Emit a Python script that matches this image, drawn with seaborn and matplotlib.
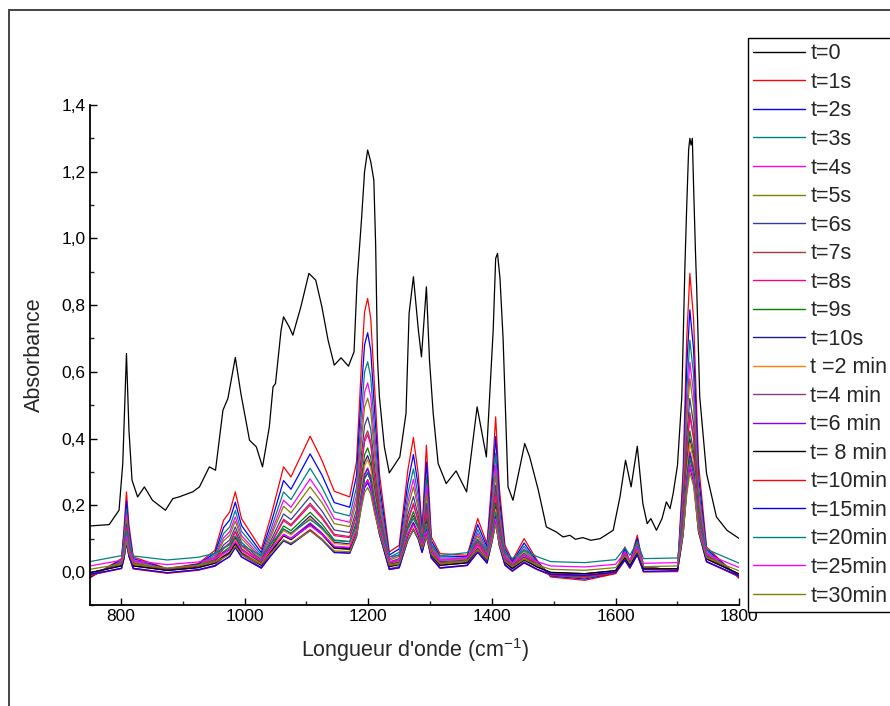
import matplotlib
matplotlib.use("Agg")
import matplotlib.pyplot as plt
import matplotlib.ticker as mticker
from matplotlib.patches import Rectangle
import pandas as pd
import seaborn as sns

labels = ["t=0", "t=1s", "t=2s", "t=3s", "t=4s", "t=5s", "t=6s", "t=7s", "t=8s",
          "t=9s", "t=10s", "t =2 min", "t=4 min", "t=6 min", "t= 8 min",
          "t=10min", "t=15min", "t=20min", "t=25min", "t=30min"]
colors = ["#000000", "#FF0000", "#0000FF", "#008080", "#FF00FF", "#808000",
          "#3A3A9E", "#A03C3C", "#FF0080", "#008000", "#1C1C8C", "#FF8000",
          "#8B3A8B", "#8000FF", "#000000", "#FF0000", "#0000FF", "#008080",
          "#FF00FF", "#808000"]

# spectre initial (t=0)
wn_t0 = [750, 781, 797, 803, 809, 813, 818, 827, 838, 851,
         872, 884, 894, 916, 927, 943, 953, 965, 973, 985,
         994, 1008, 1019, 1029, 1040, 1046, 1050, 1059, 1063, 1072,
         1078, 1091, 1104, 1115, 1125, 1135, 1145, 1156, 1168, 1177,
         1182, 1189, 1194, 1199, 1204, 1209, 1212, 1215, 1218, 1226,
         1234, 1251, 1261, 1266, 1273, 1281, 1286, 1294, 1299, 1305,
         1313, 1326, 1342, 1359, 1376, 1391, 1402, 1406, 1409, 1413,
         1418, 1426, 1434, 1453, 1461, 1475, 1488, 1504, 1515, 1526,
         1535, 1547, 1560, 1575, 1596, 1607, 1616, 1625, 1635, 1644,
         1651, 1657, 1666, 1675, 1682, 1688, 1693, 1700, 1707, 1712,
         1715, 1718, 1720, 1722, 1724, 1726, 1729, 1731, 1736, 1747,
         1763, 1780, 1800]
abs_t0 = [0.138, 0.142, 0.185, 0.325, 0.655, 0.425, 0.275, 0.225, 0.255, 0.215,
          0.185, 0.220, 0.225, 0.240, 0.255, 0.315, 0.305, 0.485, 0.520, 0.643,
          0.535, 0.395, 0.375, 0.315, 0.435, 0.555, 0.565, 0.725, 0.765, 0.735,
          0.710, 0.795, 0.895, 0.875, 0.795, 0.695, 0.620, 0.642, 0.617, 0.660,
          0.875, 1.055, 1.200, 1.265, 1.230, 1.175, 0.975, 0.635, 0.525, 0.375,
          0.297, 0.345, 0.475, 0.775, 0.885, 0.725, 0.645, 0.855, 0.635, 0.475,
          0.325, 0.265, 0.303, 0.240, 0.495, 0.345, 0.725, 0.940, 0.955, 0.880,
          0.700, 0.255, 0.215, 0.385, 0.345, 0.245, 0.135, 0.120, 0.105, 0.110,
          0.098, 0.103, 0.095, 0.100, 0.125, 0.225, 0.335, 0.255, 0.377, 0.205,
          0.145, 0.160, 0.125, 0.160, 0.210, 0.190, 0.235, 0.320, 0.525, 0.915,
          1.100, 1.265, 1.300, 1.280, 1.300, 1.160, 0.965, 0.855, 0.525, 0.295,
          0.165, 0.125, 0.100]

# spectres apres irradiation
wn_grid = [750, 801, 805, 809, 813, 820, 875, 925, 952, 966,
           976, 985, 995, 1027, 1043, 1063, 1075, 1106, 1125, 1145,
           1170, 1181, 1189, 1194, 1199, 1204, 1210, 1218, 1234, 1250,
           1264, 1273, 1281, 1287, 1294, 1302, 1316, 1360, 1377, 1392,
           1400, 1406, 1412, 1421, 1433, 1452, 1473, 1495, 1550, 1600,
           1615, 1623, 1635, 1645, 1700, 1709, 1715, 1720, 1726, 1734,
           1747, 1800]

abs_1s = [-0.018, 0.040, 0.130, 0.240, 0.140, 0.045, 0.010, 0.025, 0.065, 0.155,
          0.180, 0.240, 0.160, 0.068, 0.170, 0.315, 0.285, 0.407, 0.335, 0.242,
          0.225, 0.330, 0.625, 0.780, 0.820, 0.760, 0.560, 0.295, 0.060, 0.080,
          0.305, 0.403, 0.290, 0.125, 0.380, 0.105, 0.055, 0.050, 0.160, 0.085,
          0.280, 0.465, 0.250, 0.080, 0.035, 0.100, 0.035, -0.015, -0.025, -0.005,
          0.075, 0.030, 0.110, 0.015, 0.005, 0.300, 0.700, 0.895, 0.760, 0.325,
          0.075, -0.020]
abs_2s = [-0.015, 0.036, 0.114, 0.212, 0.123, 0.040, 0.009, 0.023, 0.057, 0.133,
          0.156, 0.209, 0.139, 0.058, 0.148, 0.274, 0.248, 0.354, 0.291, 0.208,
          0.194, 0.289, 0.546, 0.681, 0.717, 0.664, 0.490, 0.262, 0.051, 0.069,
          0.266, 0.352, 0.255, 0.114, 0.329, 0.094, 0.048, 0.046, 0.142, 0.075,
          0.245, 0.406, 0.219, 0.070, 0.030, 0.087, 0.031, -0.012, -0.021, -0.003,
          0.069, 0.028, 0.100, 0.014, 0.006, 0.265, 0.615, 0.786, 0.668, 0.287,
          0.068, -0.017]
abs_3s = [-0.012, 0.032, 0.101, 0.189, 0.110, 0.035, 0.008, 0.021, 0.051, 0.115,
          0.135, 0.184, 0.122, 0.051, 0.130, 0.240, 0.217, 0.311, 0.254, 0.180,
          0.168, 0.254, 0.480, 0.599, 0.630, 0.584, 0.431, 0.234, 0.044, 0.059,
          0.234, 0.309, 0.225, 0.104, 0.287, 0.085, 0.042, 0.042, 0.127, 0.067,
          0.216, 0.356, 0.192, 0.062, 0.026, 0.077, 0.028, -0.010, -0.018, -0.002,
          0.063, 0.026, 0.092, 0.013, 0.007, 0.236, 0.543, 0.695, 0.592, 0.256,
          0.062, -0.015]
abs_4s = [-0.010, 0.029, 0.091, 0.172, 0.100, 0.032, 0.007, 0.019, 0.046, 0.102,
          0.121, 0.165, 0.109, 0.045, 0.117, 0.215, 0.194, 0.279, 0.227, 0.160,
          0.149, 0.229, 0.431, 0.538, 0.567, 0.525, 0.388, 0.214, 0.039, 0.052,
          0.210, 0.278, 0.203, 0.097, 0.256, 0.079, 0.038, 0.039, 0.116, 0.061,
          0.194, 0.320, 0.173, 0.055, 0.023, 0.069, 0.025, -0.008, -0.015, -0.001,
          0.060, 0.025, 0.086, 0.012, 0.007, 0.214, 0.491, 0.629, 0.536, 0.233,
          0.057, -0.013]
abs_5s = [-0.009, 0.028, 0.084, 0.159, 0.092, 0.029, 0.007, 0.018, 0.043, 0.093,
          0.110, 0.152, 0.100, 0.040, 0.108, 0.197, 0.177, 0.255, 0.208, 0.145,
          0.136, 0.210, 0.396, 0.494, 0.521, 0.482, 0.357, 0.199, 0.035, 0.047,
          0.193, 0.255, 0.188, 0.092, 0.233, 0.074, 0.035, 0.037, 0.108, 0.056,
          0.179, 0.293, 0.159, 0.051, 0.021, 0.064, 0.024, -0.007, -0.014, 0.000,
          0.057, 0.024, 0.081, 0.011, 0.008, 0.199, 0.453, 0.580, 0.495, 0.216,
          0.054, -0.012]
abs_6s = [-0.007, 0.025, 0.075, 0.144, 0.083, 0.026, 0.006, 0.017, 0.038, 0.081,
          0.096, 0.135, 0.089, 0.035, 0.096, 0.174, 0.157, 0.226, 0.183, 0.126,
          0.118, 0.187, 0.352, 0.439, 0.464, 0.428, 0.318, 0.180, 0.030, 0.040,
          0.172, 0.226, 0.168, 0.086, 0.205, 0.068, 0.031, 0.035, 0.098, 0.051,
          0.159, 0.260, 0.142, 0.045, 0.018, 0.057, 0.021, -0.006, -0.011, 0.001,
          0.053, 0.023, 0.076, 0.011, 0.008, 0.179, 0.406, 0.520, 0.444, 0.195,
          0.050, -0.011]
abs_7s = [-0.006, 0.023, 0.069, 0.133, 0.077, 0.024, 0.006, 0.016, 0.035, 0.072,
          0.087, 0.123, 0.081, 0.031, 0.087, 0.158, 0.142, 0.206, 0.166, 0.113,
          0.106, 0.171, 0.321, 0.401, 0.423, 0.391, 0.291, 0.167, 0.027, 0.036,
          0.157, 0.206, 0.154, 0.082, 0.185, 0.064, 0.028, 0.033, 0.091, 0.047,
          0.146, 0.237, 0.129, 0.041, 0.016, 0.052, 0.020, -0.005, -0.010, 0.002,
          0.051, 0.022, 0.072, 0.010, 0.008, 0.166, 0.372, 0.478, 0.408, 0.180,
          0.047, -0.010]
abs_8s = [-0.005, 0.023, 0.068, 0.130, 0.075, 0.024, 0.006, 0.016, 0.034, 0.070,
          0.084, 0.119, 0.078, 0.030, 0.085, 0.154, 0.138, 0.200, 0.161, 0.109,
          0.103, 0.167, 0.313, 0.390, 0.412, 0.380, 0.283, 0.164, 0.026, 0.035,
          0.152, 0.201, 0.150, 0.080, 0.180, 0.062, 0.027, 0.032, 0.089, 0.046,
          0.142, 0.231, 0.126, 0.040, 0.016, 0.050, 0.019, -0.004, -0.009, 0.002,
          0.050, 0.022, 0.071, 0.010, 0.009, 0.162, 0.363, 0.466, 0.398, 0.176,
          0.047, -0.009]
abs_9s = [-0.004, 0.021, 0.061, 0.119, 0.068, 0.022, 0.005, 0.015, 0.031, 0.061,
          0.075, 0.107, 0.070, 0.027, 0.076, 0.138, 0.124, 0.179, 0.144, 0.096,
          0.091, 0.151, 0.282, 0.351, 0.372, 0.343, 0.256, 0.151, 0.023, 0.030,
          0.137, 0.181, 0.136, 0.076, 0.160, 0.058, 0.025, 0.031, 0.082, 0.042,
          0.128, 0.208, 0.114, 0.036, 0.014, 0.045, 0.018, -0.003, -0.008, 0.003,
          0.048, 0.021, 0.067, 0.010, 0.009, 0.148, 0.330, 0.423, 0.362, 0.161,
          0.044, -0.008]
abs_10s = [-0.003, 0.020, 0.058, 0.113, 0.065, 0.020, 0.005, 0.014, 0.030, 0.057,
           0.069, 0.101, 0.066, 0.025, 0.072, 0.129, 0.115, 0.168, 0.134, 0.089,
           0.084, 0.141, 0.264, 0.329, 0.349, 0.321, 0.240, 0.143, 0.021, 0.028,
           0.129, 0.169, 0.129, 0.073, 0.149, 0.056, 0.023, 0.030, 0.078, 0.040,
           0.120, 0.194, 0.107, 0.034, 0.013, 0.043, 0.017, -0.003, -0.007, 0.003,
           0.046, 0.020, 0.065, 0.009, 0.009, 0.140, 0.311, 0.399, 0.342, 0.153,
           0.042, -0.008]
abs_2min = [-0.003, 0.020, 0.056, 0.110, 0.063, 0.020, 0.005, 0.014, 0.029, 0.054,
            0.067, 0.097, 0.063, 0.024, 0.069, 0.124, 0.111, 0.162, 0.129, 0.085,
            0.081, 0.137, 0.255, 0.318, 0.337, 0.311, 0.232, 0.140, 0.020, 0.026,
            0.124, 0.164, 0.125, 0.072, 0.143, 0.055, 0.022, 0.029, 0.076, 0.039,
            0.116, 0.188, 0.103, 0.033, 0.012, 0.041, 0.017, -0.002, -0.007, 0.003,
            0.046, 0.020, 0.064, 0.009, 0.009, 0.136, 0.301, 0.387, 0.332, 0.149,
            0.041, -0.007]
abs_4min = [-0.010, 0.011, 0.045, 0.097, 0.052, 0.011, -0.003, 0.006, 0.020, 0.043,
            0.055, 0.084, 0.052, 0.014, 0.058, 0.110, 0.097, 0.145, 0.114, 0.071,
            0.067, 0.122, 0.234, 0.294, 0.312, 0.287, 0.213, 0.126, 0.010, 0.016,
            0.110, 0.147, 0.111, 0.062, 0.127, 0.045, 0.013, 0.020, 0.065, 0.029,
            0.102, 0.170, 0.090, 0.023, 0.004, 0.031, 0.008, -0.010, -0.014, -0.004,
            0.037, 0.012, 0.054, 0.001, 0.001, 0.122, 0.279, 0.361, 0.308, 0.134,
            0.032, -0.015]
abs_6min = [-0.002, 0.019, 0.052, 0.102, 0.058, 0.018, 0.005, 0.013, 0.027, 0.048,
            0.060, 0.089, 0.058, 0.021, 0.063, 0.113, 0.101, 0.147, 0.117, 0.076,
            0.072, 0.125, 0.233, 0.291, 0.308, 0.284, 0.213, 0.130, 0.017, 0.023,
            0.114, 0.149, 0.115, 0.069, 0.129, 0.052, 0.020, 0.028, 0.071, 0.036,
            0.106, 0.171, 0.094, 0.030, 0.011, 0.038, 0.015, -0.002, -0.005, 0.004,
            0.044, 0.019, 0.061, 0.009, 0.009, 0.126, 0.277, 0.357, 0.306, 0.138,
            0.039, -0.007]
abs_8min = [-0.002, 0.018, 0.050, 0.099, 0.056, 0.018, 0.005, 0.013, 0.026, 0.046,
            0.057, 0.085, 0.055, 0.020, 0.061, 0.108, 0.097, 0.141, 0.112, 0.072,
            0.069, 0.121, 0.225, 0.280, 0.297, 0.273, 0.205, 0.127, 0.016, 0.022,
            0.109, 0.144, 0.111, 0.068, 0.123, 0.050, 0.020, 0.027, 0.069, 0.035,
            0.103, 0.165, 0.091, 0.029, 0.010, 0.036, 0.015, -0.001, -0.005, 0.004,
            0.043, 0.019, 0.060, 0.009, 0.010, 0.123, 0.268, 0.345, 0.296, 0.134,
            0.039, -0.006]
abs_10min = [-0.009, 0.010, 0.040, 0.088, 0.046, 0.009, -0.004, 0.005, 0.017, 0.035,
             0.047, 0.074, 0.045, 0.011, 0.050, 0.096, 0.085, 0.127, 0.099, 0.060,
             0.057, 0.108, 0.208, 0.261, 0.277, 0.255, 0.189, 0.115, 0.007, 0.012,
             0.097, 0.130, 0.099, 0.058, 0.110, 0.041, 0.011, 0.019, 0.059, 0.026,
             0.091, 0.150, 0.079, 0.020, 0.002, 0.027, 0.007, -0.009, -0.013, -0.004,
             0.035, 0.011, 0.051, 0.000, 0.002, 0.111, 0.250, 0.324, 0.278, 0.122,
             0.030, -0.014]
abs_15min = [-0.007, 0.011, 0.040, 0.087, 0.047, 0.011, -0.002, 0.007, 0.018, 0.035,
             0.046, 0.073, 0.045, 0.012, 0.050, 0.093, 0.082, 0.124, 0.096, 0.058,
             0.056, 0.106, 0.201, 0.252, 0.268, 0.246, 0.184, 0.113, 0.008, 0.013,
             0.095, 0.126, 0.097, 0.059, 0.106, 0.042, 0.012, 0.020, 0.059, 0.027,
             0.089, 0.146, 0.078, 0.021, 0.003, 0.028, 0.008, -0.007, -0.010, -0.001,
             0.036, 0.013, 0.052, 0.002, 0.004, 0.109, 0.243, 0.314, 0.270, 0.120,
             0.031, -0.012]
abs_20min = [0.031, 0.049, 0.077, 0.122, 0.083, 0.048, 0.036, 0.044, 0.056, 0.071,
             0.082, 0.108, 0.081, 0.049, 0.086, 0.128, 0.117, 0.157, 0.131, 0.094,
             0.091, 0.140, 0.232, 0.281, 0.297, 0.276, 0.216, 0.149, 0.046, 0.050,
             0.130, 0.160, 0.132, 0.096, 0.140, 0.079, 0.049, 0.058, 0.096, 0.064,
             0.124, 0.179, 0.113, 0.058, 0.041, 0.065, 0.046, 0.031, 0.028, 0.037,
             0.073, 0.050, 0.089, 0.040, 0.042, 0.144, 0.274, 0.343, 0.300, 0.154,
             0.068, 0.026]
abs_25min = [0.018, 0.035, 0.062, 0.106, 0.068, 0.034, 0.022, 0.030, 0.041, 0.055,
             0.066, 0.091, 0.065, 0.034, 0.070, 0.111, 0.100, 0.139, 0.113, 0.077,
             0.074, 0.123, 0.212, 0.259, 0.275, 0.254, 0.196, 0.132, 0.031, 0.035,
             0.112, 0.142, 0.115, 0.081, 0.122, 0.064, 0.035, 0.044, 0.080, 0.049,
             0.107, 0.160, 0.097, 0.043, 0.027, 0.049, 0.031, 0.018, 0.015, 0.023,
             0.059, 0.036, 0.074, 0.026, 0.028, 0.127, 0.253, 0.320, 0.278, 0.137,
             0.054, 0.013]
abs_30min = [0.008, 0.024, 0.050, 0.093, 0.056, 0.023, 0.012, 0.020, 0.030, 0.043,
             0.053, 0.078, 0.053, 0.023, 0.058, 0.096, 0.086, 0.123, 0.098, 0.063,
             0.061, 0.108, 0.193, 0.238, 0.253, 0.233, 0.178, 0.118, 0.020, 0.024,
             0.098, 0.126, 0.101, 0.070, 0.106, 0.053, 0.024, 0.033, 0.068, 0.038,
             0.093, 0.143, 0.083, 0.032, 0.016, 0.038, 0.021, 0.008, 0.005, 0.013,
             0.048, 0.026, 0.063, 0.016, 0.018, 0.113, 0.233, 0.298, 0.258, 0.123,
             0.043, 0.003]

later = [abs_1s, abs_2s, abs_3s, abs_4s, abs_5s, abs_6s, abs_7s, abs_8s, abs_9s,
         abs_10s, abs_2min, abs_4min, abs_6min, abs_8min, abs_10min, abs_15min,
         abs_20min, abs_25min, abs_30min]

frames = [pd.DataFrame({"wn": wn_t0, "A": abs_t0, "serie": labels[0]})]
for lab, vals in zip(labels[1:], later):
    frames.append(pd.DataFrame({"wn": wn_grid, "A": vals, "serie": lab}))
df = pd.concat(frames, ignore_index=True)

sns.set_theme(style="white")
plt.rcParams["font.family"] = ["Liberation Sans", "DejaVu Sans"]

fig = plt.figure(figsize=(8.9, 7.06), dpi=100)
ax = fig.add_axes([0.1011, 0.1426, 0.7296, 0.7087])

sns.lineplot(data=df, x="wn", y="A", hue="serie", hue_order=labels,
             palette=colors, estimator=None, sort=False, linewidth=0.9, ax=ax)

ax.set_xlim(750, 1800)
ax.set_ylim(-0.1, 1.4)
ax.xaxis.set_major_locator(mticker.MultipleLocator(200))
ax.xaxis.set_minor_locator(mticker.MultipleLocator(100))
ax.yaxis.set_major_locator(mticker.MultipleLocator(0.2))
ax.yaxis.set_minor_locator(mticker.MultipleLocator(0.1))
ax.yaxis.set_major_formatter(mticker.FuncFormatter(
    lambda v, p: f"{v:.1f}".replace(".", ",").replace("-0,0", "0,0")))
ax.tick_params(which="major", direction="in", length=5, width=1,
               labelsize=12.5, colors="black", pad=3)
ax.tick_params(which="minor", direction="in", length=3, width=1)
ax.tick_params(axis="y", which="both", left=True)
ax.tick_params(axis="x", which="both", bottom=True)
for side in ["top", "right"]:
    ax.spines[side].set_visible(False)
for side in ["left", "bottom"]:
    ax.spines[side].set_color("black")
    ax.spines[side].set_linewidth(1.3)

ax.set_xlabel(r"Longueur d'onde (cm$^{\mathregular{-1}}$)", fontsize=15.5,
              labelpad=8)
ax.set_ylabel("Absorbance", fontsize=15.5, labelpad=12)

h, l = ax.get_legend_handles_labels()
leg = ax.legend(h, l, loc="upper left", bbox_to_anchor=(748 / 890, 1 - 38 / 706),
                bbox_transform=fig.transFigure, frameon=True, fancybox=False,
                edgecolor="black", framealpha=1, fontsize=15.5, handlelength=2.42,
                handletextpad=0.23, labelspacing=0.35, borderpad=0.25,
                borderaxespad=0)
leg.get_frame().set_linewidth(1.0)
for line in leg.get_lines():
    line.set_linewidth(1.0)

fig.patches.append(Rectangle((8.5 / 890, -0.1), 1.2, 1 - 10.5 / 706 + 0.1,
                             transform=fig.transFigure, fill=False,
                             edgecolor="#444444", linewidth=1.4))

plt.savefig("out.png", dpi=100)
